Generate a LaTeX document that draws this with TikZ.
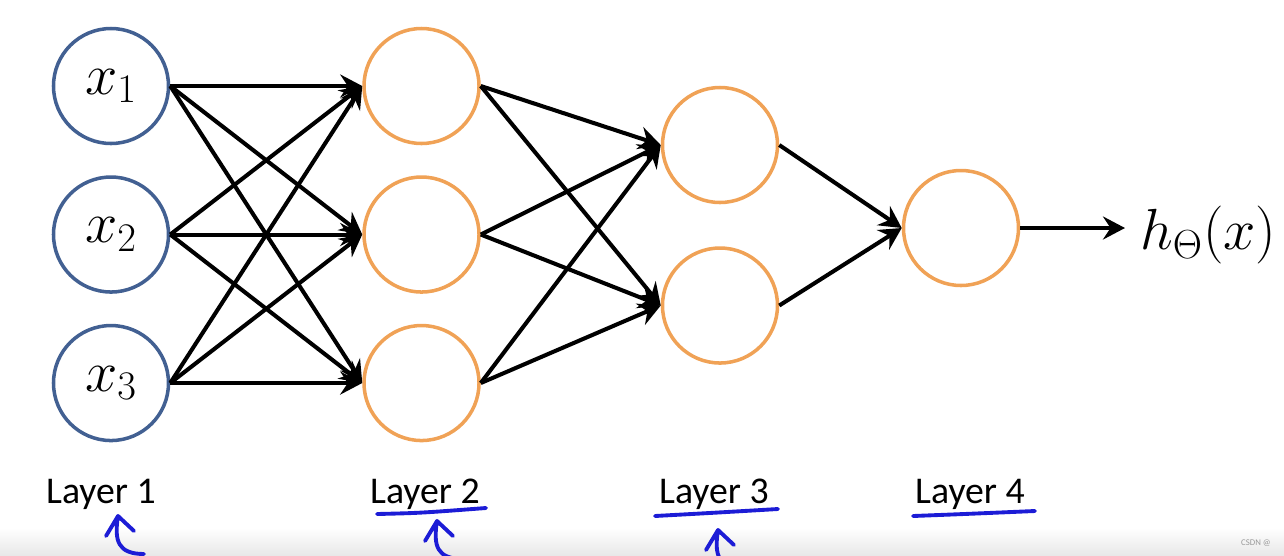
\documentclass[tikz,border=0pt]{standalone}
\usepackage{fix-cm}
\usepackage{fontspec}
\setsansfont{Carlito}
\usetikzlibrary{positioning}
\usetikzlibrary{arrows.meta}
\definecolor{inblue}{RGB}{66,96,146}
\definecolor{hidorange}{RGB}{240,162,86}
\definecolor{penblue}{RGB}{28,28,214}
\tikzstyle{edge} = [draw,line width=2.3pt,->]
\tikzstyle{neuron} = [circle,draw,line width=2pt,minimum size=2.3cm,inner sep=0pt]
\tikzstyle{layer} = [anchor=base,font=\sffamily\fontsize{21.5}{24}\selectfont]
\tikzstyle{pen} = [draw=penblue,line width=2.2pt,line cap=round,line join=round]

\begin{document}
\begin{tikzpicture}[>={Stealth[length=0.44cm,width=0.46cm,inset=0.15cm]},
  every node/.append style={font=\fontsize{33}{35}\selectfont}]
 \useasboundingbox (0,0) rectangle (25.68,-11.1);
 \shade[top color=white,bottom color=black!9] (0,-10.55) rectangle (25.68,-11.1);

 % input layer
 \node[neuron, draw=inblue] (x1) at (2.22,-1.72) {$x_1$};
 \node[neuron, draw=inblue] (x2) [below=0.6cm of x1] {$x_2$};
 \node[neuron, draw=inblue] (x3) [below=0.6cm of x2] {$x_3$};

 % hidden layers
 \node[neuron, draw=hidorange] (a1) [right=3.84cm of x1] {};
 \node[neuron, draw=hidorange] (a2) [below=0.6cm of a1] {};
 \node[neuron, draw=hidorange] (a3) [below=0.6cm of a2] {};
 \node[neuron, draw=hidorange] (b1) at (14.40,-2.90) {};
 \node[neuron, draw=hidorange] (b2) [below=0.84cm of b1] {};

 % output layer
 \node[neuron, draw=hidorange] (c1) at (19.22,-4.56) {};
 \coordinate (out) at (22.5,-4.56);
 \node[anchor=west] (hx) at (22.68,-4.70) {$h_\Theta(x)$};

 \foreach \i in {1,2,3}
  \foreach \j in {1,2,3}
   \path[edge] (x\i.east) -- (a\j.west);
 \foreach \i in {1,2,3}
  \foreach \j in {1,2}
   \path[edge] (a\i.east) -- (b\j.west);
 \path[edge] (b1.east) -- (c1.west);
 \path[edge] (b2.east) -- (c1.west);
 \path[edge] (c1.east) -- (out);

 \node[layer] (l1) at (2.02,-10.06) {Layer 1};
 \node[layer] (l2) at (8.50,-10.06) {Layer 2};
 \node[layer] (l3) at (14.28,-10.06) {Layer 3};
 \node[layer] (l4) at (19.40,-10.06) {Layer 4};

 % pen marks
 \draw[pen] (7.54,-10.28) .. controls (8.4,-10.26) .. (9.72,-10.16);
 \draw[pen] (13.10,-10.32) .. controls (14.2,-10.26) .. (15.56,-10.18);
 \draw[pen] (18.26,-10.32) .. controls (19.3,-10.28) .. (20.70,-10.22);
 \foreach \cx/\cy in {2.36/-10.32, 8.74/-10.42, 14.36/-10.60}
  \draw[pen, shift={(\cx,\cy)}] (-0.24,-0.4) -- (0,0) -- (0.32,-0.3)
        (0,0) .. controls (-0.08,-0.5) and (0,-0.76) .. (0.52,-0.76);

 \node[font=\sffamily\fontsize{5}{6}\selectfont, text=black!40] (wm) at (25.12,-10.86) {CSDN @};
\end{tikzpicture}
\end{document}
